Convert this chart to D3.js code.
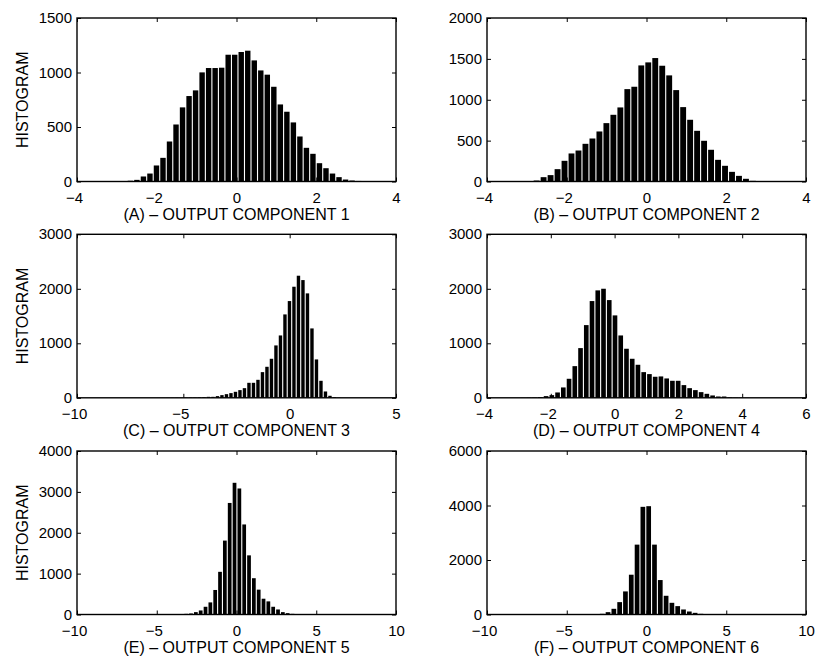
<!DOCTYPE html>
<html>
<head>
<meta charset="utf-8">
<script src="https://cdn.jsdelivr.net/npm/d3@7"></script>
<style>
  body { margin: 0; background: #fff; }
  text { font-family: "Liberation Sans", Arial, Helvetica, sans-serif; fill: #000; }
</style>
</head>
<body>
<svg id="chart" width="816" height="658"></svg>
<script>
// Panel captions
const titles = [
  "(A) – OUTPUT COMPONENT 1",
  "(B) – OUTPUT COMPONENT 2",
  "(C) – OUTPUT COMPONENT 3",
  "(D) – OUTPUT COMPONENT 4",
  "(E) – OUTPUT COMPONENT 5",
  "(F) – OUTPUT COMPONENT 6"
];
const yLabel = "HISTOGRAM";

// Histogram bins: left edge of first bin, bin width, counts per bin
const binStart = [-3.227, -3.537, -6.24, -2.95, -6.017, -7.31];
const binWidth = [0.1635, 0.175, 0.2116, 0.18, 0.303, 0.364];

const countsA = [2, 3, 4, 7, 15, 46, 73, 147, 217, 367, 523, 680, 784, 836, 1001, 1041, 1041, 1044,
  1163, 1163, 1188, 1200, 1111, 1019, 980, 869, 707, 640, 542, 413, 309, 254, 168, 122, 73, 40, 18, 9, 5, 3];
const countsB = [1, 2, 2, 4, 12, 53, 78, 151, 253, 343, 379, 461, 526, 612, 714, 816, 906, 1130, 1159,
  1420, 1457, 1510, 1416, 1298, 1118, 910, 755, 620, 498, 388, 265, 192, 118, 69, 33, 8, 4, 2, 1, 1];
const countsC = [1, 1, 2, 2, 3, 3, 4, 5, 6, 8, 12, 18, 18, 31, 49, 67, 86, 110, 141, 177, 275, 275, 330,
  471, 569, 716, 961, 1144, 1530, 1775, 2038, 2240, 2160, 1916, 1273, 704, 312, 116, 37, 12, 3];
const countsD = [2, 4, 6, 14, 31, 49, 98, 190, 349, 581, 912, 1334, 1775, 1971, 2001, 1793, 1512, 1144,
  900, 716, 606, 471, 435, 386, 392, 355, 312, 312, 233, 177, 141, 104, 73, 43, 24, 24, 8, 4, 2, 1];
const countsE = [1, 1, 1, 1, 2, 2, 3, 4, 6, 16, 25, 58, 99, 189, 296, 600, 1044, 1808, 2729, 3222, 3083,
  2203, 1447, 888, 608, 386, 321, 189, 123, 58, 33, 16, 8, 5, 3, 2, 2, 1, 1, 1];
const countsF = [1, 1, 1, 1, 1, 2, 2, 2, 3, 4, 6, 10, 25, 86, 209, 454, 847, 1460, 2564, 3951, 3975,
  2564, 1264, 687, 429, 307, 184, 110, 61, 25, 10, 6, 4, 3, 2, 2, 1, 1, 1, 1, 1];

// Axis ranges and tick values
const xDomains = [[-4, 4], [-4, 4], [-10, 5], [-4, 6], [-10, 10], [-10, 10]];
const xTicks = [
  [-4, -2, 0, 2, 4],
  [-4, -2, 0, 2, 4],
  [-10, -5, 0, 5],
  [-4, -2, 0, 2, 4, 6],
  [-10, -5, 0, 5, 10],
  [-10, -5, 0, 5, 10]
];
const yMax = [1500, 2000, 3000, 3000, 4000, 6000];
const yTicks = [
  [0, 500, 1000, 1500],
  [0, 500, 1000, 1500, 2000],
  [0, 1000, 2000, 3000],
  [0, 1000, 2000, 3000],
  [0, 1000, 2000, 3000, 4000],
  [0, 2000, 4000, 6000]
];

const allCounts = [countsA, countsB, countsC, countsD, countsE, countsF];

// Layout of the 3x2 grid
const colLeft = [77, 487];
const rowTop = [18, 234.3, 451];
const plotW = 319;
const plotH = 163.5;
const tickFont = 15;
const labelFont = 16;
const fontStack = '"Liberation Sans", Arial, Helvetica, sans-serif';

const svg = d3.select("#chart");

allCounts.forEach((counts, p) => {
  const col = p % 2, row = Math.floor(p / 2);
  const g = svg.append("g")
    .attr("transform", `translate(${colLeft[col]},${rowTop[row]})`);

  const x = d3.scaleLinear().domain(xDomains[p]).range([0, plotW]);
  const y = d3.scaleLinear().domain([0, yMax[p]]).range([plotH, 0]);

  const bins = counts.map((c, i) => ({
    x0: binStart[p] + i * binWidth[p],
    x1: binStart[p] + (i + 1) * binWidth[p],
    count: c
  }));

  // bars
  g.append("g").selectAll("rect").data(bins).join("rect")
    .attr("x", d => x(d.x0) + 0.3)
    .attr("width", d => Math.max(0.5, x(d.x1) - x(d.x0) - 1.1))
    .attr("y", d => y(d.count))
    .attr("height", d => plotH - y(d.count))
    .attr("fill", "#000");

  // axes with inward ticks on all four sides
  const bottom = g.append("g").attr("transform", `translate(0,${plotH})`)
    .call(d3.axisBottom(x).tickValues(xTicks[p]).tickSize(-4).tickPadding(11));
  bottom.selectAll("text").attr("dx", d => d < 0 ? -3 : 0);
  g.append("g")
    .call(d3.axisTop(x).tickValues(xTicks[p]).tickSize(-4).tickFormat(""));
  const left = g.append("g")
    .call(d3.axisLeft(y).tickValues(yTicks[p]).tickSize(-4).tickPadding(5).tickFormat(d3.format("d")));
  left.selectAll("text").attr("dy", "0.3em");
  g.append("g").attr("transform", `translate(${plotW},0)`)
    .call(d3.axisRight(y).tickValues(yTicks[p]).tickSize(-4).tickFormat(""));

  g.selectAll(".domain").remove();
  g.selectAll(".tick line").attr("stroke", "#000").attr("stroke-width", 1);
  g.selectAll(".tick text").attr("font-size", tickFont).attr("fill", "#000")
    .style("font-family", fontStack);

  // frame
  g.append("rect")
    .attr("width", plotW).attr("height", plotH)
    .attr("fill", "none").attr("stroke", "#000").attr("stroke-width", 1.4);

  // caption under the axis
  g.append("text")
    .attr("x", plotW / 2).attr("y", plotH + 38.5)
    .attr("text-anchor", "middle").attr("font-size", labelFont)
    .text(titles[p]);

  // y label on the left column
  if (col === 0) {
    svg.append("text")
      .attr("transform", `translate(28,${rowTop[row] + plotH / 2}) rotate(-90)`)
      .attr("text-anchor", "middle").attr("font-size", labelFont)
      .text(yLabel);
  }
});
</script>
</body>
</html>
